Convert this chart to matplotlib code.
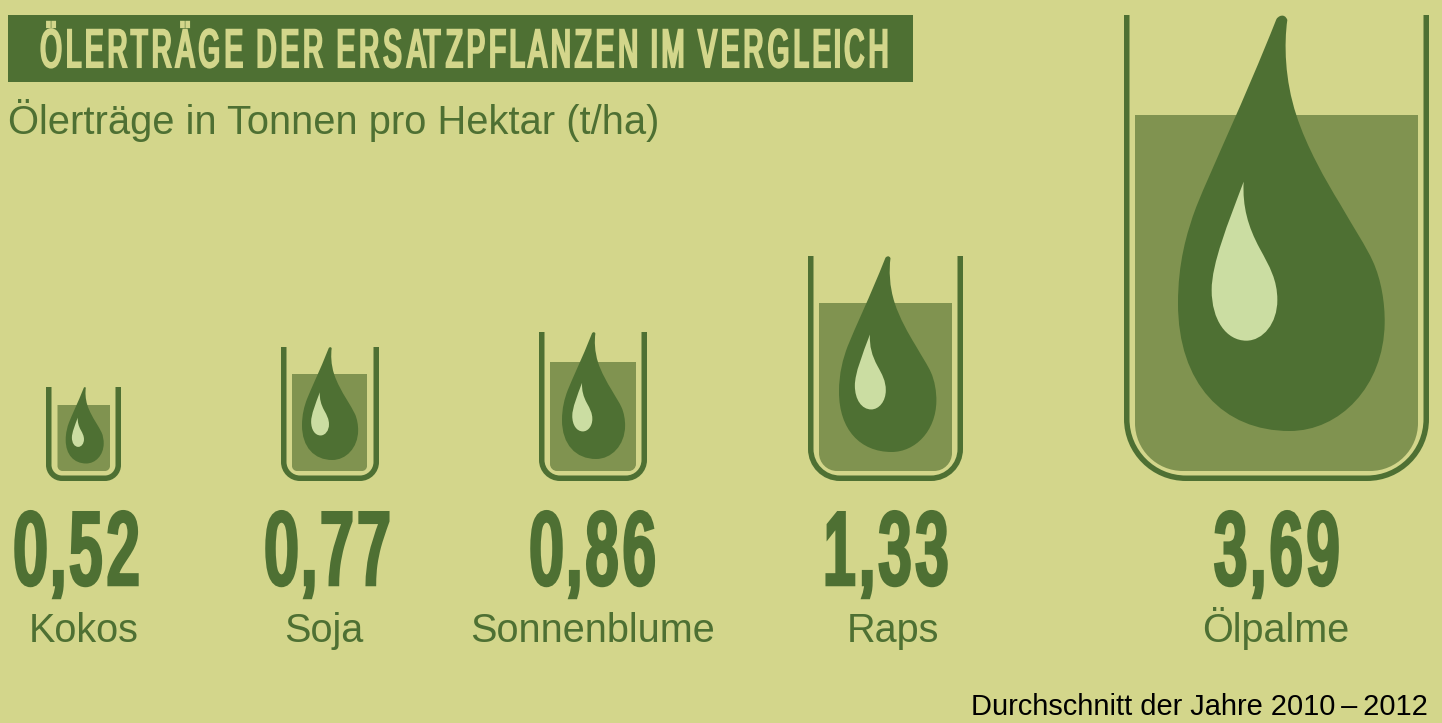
"""Oil yields of replacement crops, drawn as beakers with oil drops."""

import matplotlib
matplotlib.use("Agg")
import matplotlib.pyplot as plt
import matplotlib.patheffects as pe
import numpy as np
from matplotlib.patches import PathPatch, Rectangle
from matplotlib.path import Path
from matplotlib.transforms import Affine2D

CROPS = ["Kokos", "Soja", "Sonnenblume", "Raps", "Ölpalme"]
YIELDS = [0.52, 0.77, 0.86, 1.33, 3.69]

TITLE = "ÖLERTRÄGE DER ERSATZPFLANZEN IM VERGLEICH"
SUBTITLE = "Ölerträge in Tonnen pro Hektar (t/ha)"
FOOTER = "Durchschnitt der Jahre 2010\u2009–\u20092012"

BG = "#D3D68B"
DARK = "#4E7033"
MID = "#809350"
LIGHT = "#CBDDA2"

# layout, in pixels of the 1442x723 picture
GLASS_LEFT = [46, 281, 539, 808, 1124]
GLASS_RIGHT = [121, 379, 647, 963, 1429]
GLASS_TOP = [387, 347, 332, 256, 15]
GLASS_RADIUS = [16, 19, 21, 32, 62]
OIL_LEFT = [57.5, 292, 550, 819, 1135]
OIL_RIGHT = [110, 367, 636, 952, 1418]
OIL_TOP = [405, 374, 362, 303, 115]
DROP_LEFT = [65.7, 302, 562, 839, 1178]
DROP_TOP = [387, 347, 332, 256, 15]
DROP_BOTTOM = [463.5, 460, 459, 452, 431]
VALUE_LEFT = [11, 262, 527, 820, 1211]
LABEL_X = [84, 324, 593, 893, 1276]

GLASS_BOTTOM = 481
OIL_BOTTOM = 471
GLASS_LW = 5.5
K = 0.5523  # bezier circle constant
PX = 0.72   # points per pixel at dpi 100

CONDENSED = ["Liberation Sans Narrow", "Liberation Sans"]

# bezier outlines traced from the big drop (start point, then triples)
DROP_OUTLINE = [
    (530, 58),
    (535, 48), (555, 38), (563, 60),
    (553, 130), (555, 240), (590, 345),
    (620, 440), (680, 545), (720, 610),
    (760, 680), (800, 740), (820, 785),
    (845, 840), (856, 910), (855, 970),
    (852, 1160), (720, 1293), (570, 1293),
    (370, 1293), (235, 1150), (235, 910),
    (235, 790), (260, 700), (290, 620),
    (340, 495), (430, 310), (530, 58),
]
SHINE_OUTLINE = [
    (432, 545),
    (428, 620), (445, 680), (480, 745),
    (510, 800), (533, 840), (533, 900),
    (533, 970), (490, 1022), (440, 1022),
    (380, 1022), (336, 960), (336, 870),
    (336, 790), (385, 670), (432, 545),
]
OUTLINE_X0, OUTLINE_Y0, OUTLINE_H = 235, 45, 1248


def shrink_glyphs(path, factor):
    """Narrow every glyph around its own centre, the advances stay as they are."""
    verts = path.vertices.copy()
    codes = path.codes
    starts = np.flatnonzero(codes == Path.MOVETO)
    ends = np.append(starts[1:], len(codes))
    spans = []
    for s, e in zip(starts, ends):
        xs = verts[s:e][codes[s:e] != Path.CLOSEPOLY, 0]
        spans.append([xs.min(), xs.max(), s, e])
    spans.sort(key=lambda sp: sp[0])

    # contours overlapping in x belong to one glyph (O and its counter, Ä and its dots)
    groups = []
    for sp in spans:
        if groups and sp[0] < groups[-1]["hi"]:
            groups[-1]["hi"] = max(groups[-1]["hi"], sp[1])
            groups[-1]["parts"].append(sp)
        else:
            groups.append({"lo": sp[0], "hi": sp[1], "parts": [sp]})
    for g in groups:
        mid = (g["lo"] + g["hi"]) / 2
        for _, _, s, e in g["parts"]:
            verts[s:e, 0] = mid + (verts[s:e, 0] - mid) * factor
    return Path(verts, codes)


class Squeeze(pe.AbstractPathEffect):
    """Narrow a text around x0 and thicken it evenly: no condensed display font here."""

    def __init__(self, factor, x0, stroke_px, glyph_factor):
        super().__init__()
        self.factor = factor
        self.x0 = x0
        self.stroke_px = stroke_px
        self.glyph_factor = glyph_factor

    def draw_path(self, renderer, gc, tpath, affine, rgbFace=None):
        squeeze = Affine2D().translate(-self.x0, 0).scale(self.factor, 1).translate(self.x0, 0)
        gc0 = renderer.new_gc()
        gc0.copy_properties(gc)
        gc0.set_linewidth(self.stroke_px * PX)
        gc0.set_joinstyle("miter")
        gc0.set_foreground(rgbFace)
        renderer.draw_path(gc0, shrink_glyphs(tpath, self.glyph_factor), affine + squeeze, rgbFace)
        gc0.restore()


def bezier_path(points, left, top, height):
    scale = height / OUTLINE_H
    verts = [(left + (x - OUTLINE_X0) * scale, top + (y - OUTLINE_Y0) * scale) for x, y in points]
    codes = [Path.MOVETO] + [Path.CURVE4] * (len(verts) - 1)
    return Path(verts, codes)


def u_shape(left, right, top, bottom, r, closed=False):
    """Beaker outline: open at the top, rounded bottom corners."""
    c = r * (1 - K)
    verts = [
        (left, top), (left, bottom - r),
        (left, bottom - c), (left + c, bottom), (left + r, bottom),
        (right - r, bottom),
        (right - c, bottom), (right, bottom - c), (right, bottom - r),
        (right, top),
    ]
    codes = [Path.MOVETO, Path.LINETO,
             Path.CURVE4, Path.CURVE4, Path.CURVE4,
             Path.LINETO,
             Path.CURVE4, Path.CURVE4, Path.CURVE4,
             Path.LINETO]
    if closed:
        verts.append((left, top))
        codes.append(Path.CLOSEPOLY)
    return Path(verts, codes)


def fit_width(fig, ax, txt, target_px, anchor_x, stroke_px, glyph_factor):
    """Squeeze a left-anchored text so it ends up target_px wide."""
    width = txt.get_window_extent(fig.canvas.get_renderer()).width
    x0 = ax.transData.transform((anchor_x, 0))[0]
    txt.set_path_effects([Squeeze((target_px - stroke_px) / width, x0, stroke_px, glyph_factor)])


fig = plt.figure(figsize=(14.42, 7.23), dpi=100, facecolor=BG)
ax = fig.add_axes([0, 0, 1, 1])
ax.set_xlim(0, 1442)
ax.set_ylim(723, 0)
ax.axis("off")

# banner + headings
ax.add_patch(Rectangle((8, 15), 905, 67, fc=DARK, ec="none"))
title = ax.text(38, 66.8, TITLE, color=BG, fontsize=38.5, family=CONDENSED,
                ha="left", va="baseline")
fit_width(fig, ax, title, 855, 38, 2.5, 0.82)
ax.text(8, 133.5, SUBTITLE, color=DARK, fontsize=28.7, family="Liberation Sans",
        ha="left", va="baseline")
ax.text(1428, 715, FOOTER, color="black", fontsize=20.9, family="Liberation Sans",
        ha="right", va="baseline")

for i, crop in enumerate(CROPS):
    # oil level
    oil = u_shape(OIL_LEFT[i], OIL_RIGHT[i], OIL_TOP[i], OIL_BOTTOM,
                  max(GLASS_RADIUS[i] - 14, 5), closed=True)
    ax.add_patch(PathPatch(oil, fc=MID, ec="none"))

    # glass, stroke centred on the outline
    half = GLASS_LW / 2
    glass = u_shape(GLASS_LEFT[i] + half, GLASS_RIGHT[i] - half, GLASS_TOP[i],
                    GLASS_BOTTOM - half, GLASS_RADIUS[i] - half)
    ax.add_patch(PathPatch(glass, fc="none", ec=DARK, lw=GLASS_LW * PX, capstyle="butt"))

    # drop and its highlight
    height = DROP_BOTTOM[i] - DROP_TOP[i]
    ax.add_patch(PathPatch(bezier_path(DROP_OUTLINE, DROP_LEFT[i], DROP_TOP[i], height),
                           fc=DARK, ec="none"))
    ax.add_patch(PathPatch(bezier_path(SHINE_OUTLINE, DROP_LEFT[i], DROP_TOP[i], height),
                           fc=LIGHT, ec="none"))

    # number + crop name
    value = f"{YIELDS[i]:.2f}".replace(".", ",")
    num = ax.text(VALUE_LEFT[i] + 1, 583.5, value, color=DARK, fontsize=73, family=CONDENSED,
                  ha="left", va="baseline")
    fit_width(fig, ax, num, 135, VALUE_LEFT[i] + 1, 5.5, 0.85)
    ax.text(LABEL_X[i], 642, crop, color=DARK, fontsize=28.5, family="Liberation Sans",
            ha="center", va="baseline")

fig.savefig("out.png", dpi=100, facecolor=BG)
